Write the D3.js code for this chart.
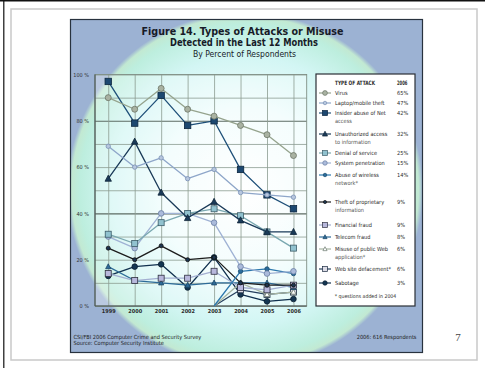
<!DOCTYPE html>
<html lang="en">
<head>
<meta charset="UTF-8" />
<title>Figure 14</title>
<style>
  html, body { margin: 0; padding: 0; background: #fff; }
  svg { display: block; }
  text { font-family: "Liberation Sans Narrow", "DejaVu Sans", sans-serif; font-stretch: condensed; }
</style>
</head>
<body>
<div id="chart"></div>
<script src="https://d3js.org/d3.v7.min.js"></script>
<script>
  // --- data ---
  const years = [1999, 2000, 2001, 2002, 2003, 2004, 2005, 2006];
  const yTicks = [0, 20, 40, 60, 80, 100];

  const virus      = [90, 85, 94, 85, 82, 78, 74, 65];
  const laptop     = [69, 60, 64, 55, 59, 49, 48, 47];
  const insider    = [97, 79, 91, 78, 80, 59, 48, 42];
  const unauth     = [55, 71, 49, 38, 45, 37, 32, 32];
  const dos        = [31, 27, 36, 40, 42, 39, 32, 25];
  const syspen     = [30, 25, 40, 40, 36, 17, 14, 15];
  const wireless   = [null, null, null, null, 0, 15, 16, 14];
  const theft      = [25, 20, 26, 20, 21, 10, 9, 9];
  const financial  = [14, 11, 12, 12, 15, 8, 7, 9];
  const telecom    = [17, 11, 10, 9, 10, 10, 10, 8];
  const misuse     = [null, null, null, null, 0, 10, 5, 6];
  const defacement = [null, null, null, null, 0, 7, 5, 6];
  const sabotage   = [13, 17, 18, 8, 21, 5, 2, 3];

  const names = [
    ['Virus'], ['Laptop/mobile theft'], ['Insider abuse of Net', 'access'],
    ['Unauthorized access', 'to information'], ['Denial of service'], ['System penetration'],
    ['Abuse of wireless', 'network*'], ['Theft of proprietary', 'information'],
    ['Financial fraud'], ['Telecom fraud'], ['Misuse of public Web', 'application*'],
    ['Web site defacement*'], ['Sabotage']
  ];
  const pct2006 = ['65%', '47%', '42%', '32%', '25%', '15%', '14%', '9%', '9%', '8%', '6%', '6%', '3%'];
  const legendY = [93, 103, 113, 134, 153, 163, 175, 202, 225, 237, 249, 269, 283];

  const styles = [
    {line: '#95a38d', marker: 'circle',   fill: '#a9b2a2', stroke: '#6c7667', r: 3},
    {line: '#8ea6c9', marker: 'circle',   fill: '#b7c7de', stroke: '#7a91b5', r: 2.2},
    {line: '#1f5079', marker: 'square',   fill: '#1d4870', stroke: '#0d2740', r: 3.2},
    {line: '#1a3a58', marker: 'triangle', fill: '#1a3a58', stroke: '#0f2438', r: 3.2},
    {line: '#7aa8b0', marker: 'square',   fill: '#91c2cf', stroke: '#3c5c68', r: 3},
    {line: '#9fb2d4', marker: 'circle',   fill: '#abbbdb', stroke: '#6a7ea2', r: 2.8},
    {line: '#2c78ad', marker: 'circle',   fill: '#2a6c9b', stroke: '#1a4c70', r: 2.2},
    {line: '#1c1c1c', marker: 'circle',   fill: '#1d3550', stroke: '#111', r: 2},
    {line: '#a4b0d2', marker: 'square',   fill: '#b8b8dc', stroke: '#2e3040', r: 3},
    {line: '#2d6b98', marker: 'triangle', fill: '#2d6b98', stroke: '#1c4666', r: 2.6},
    {line: '#a7b5a2', marker: 'triangle', fill: '#ffffff', stroke: '#6a786e', r: 2.6},
    {line: '#26405e', marker: 'square',   fill: '#dcdce6', stroke: '#1a2a40', r: 3},
    {line: '#10304e', marker: 'circle',   fill: '#143652', stroke: '#0a1e30', r: 2.8}
  ];
  const series = [virus, laptop, insider, unauth, dos, syspen, wireless, theft,
                  financial, telecom, misuse, defacement, sabotage];

  const W = 485, H = 368;
  const svg = d3.select('#chart').append('svg').attr('width', W).attr('height', H);

  // slide frame
  svg.append('rect').attr('x', 11).attr('y', 9).attr('width', 466).attr('height', 351)
     .attr('fill', 'none').attr('stroke', '#c9c9c9').attr('stroke-width', 1.5);
  svg.append('line').attr('x1', 0).attr('x2', W).attr('y1', 0.7).attr('y2', 0.7)
     .attr('stroke', '#111').attr('stroke-width', 1.4);
  svg.append('line').attr('x1', 3.8).attr('x2', 3.8).attr('y1', 0).attr('y2', H)
     .attr('stroke', '#111').attr('stroke-width', 1.2);
  svg.append('text').attr('x', 458).attr('y', 341).attr('text-anchor', 'middle')
     .attr('font-size', 11).attr('fill', '#444')
     .style('font-family', '"Liberation Serif", "DejaVu Serif", serif').style('font-stretch', 'normal')
     .text('7');

  // chart panel with glow
  const defs = svg.append('defs');
  const grad = defs.append('radialGradient').attr('id', 'glow')
     .attr('gradientUnits', 'userSpaceOnUse').attr('cx', 245).attr('cy', 190).attr('r', 178);
  [[0, '#ffffff'], [0.45, '#f0fdfd'], [0.75, '#d3f6f4'], [0.93, '#bdeede'], [0.975, '#c2e9d2'], [1, '#9cb2d3']]
    .forEach(([o, c]) => grad.append('stop').attr('offset', o).attr('stop-color', c));

  svg.append('rect').attr('x', 70).attr('y', 19).attr('width', 353).attr('height', 334)
     .attr('fill', '#97aed1');
  svg.append('rect').attr('x', 70).attr('y', 19).attr('width', 353).attr('height', 334)
     .attr('fill', 'url(#glow)');
  svg.append('rect').attr('x', 70.5).attr('y', 19.5).attr('width', 352).attr('height', 333)
     .attr('fill', 'none').attr('stroke', '#28323e').attr('stroke-width', 1.2);

  // titles
  const t = svg.append('g').attr('fill', '#171b28');
  t.append('text').attr('x', 242.5).attr('y', 34.5).attr('text-anchor', 'middle')
   .attr('font-size', 10.3).attr('font-weight', 'bold').attr('textLength', 202).attr('lengthAdjust', 'spacingAndGlyphs')
   .text('Figure 14. Types of Attacks or Misuse');
  t.append('text').attr('x', 244).attr('y', 46).attr('text-anchor', 'middle')
   .attr('font-size', 10.3).attr('font-weight', 'bold').attr('textLength', 148).attr('lengthAdjust', 'spacingAndGlyphs')
   .text('Detected in the Last 12 Months');
  t.append('text').attr('x', 244.5).attr('y', 57).attr('text-anchor', 'middle')
   .attr('font-size', 8.6).attr('textLength', 103).attr('lengthAdjust', 'spacingAndGlyphs')
   .text('By Percent of Respondents');

  // plot
  const x = d3.scalePoint().domain(years).range([95, 306.7]).padding(0.5);
  const y = d3.scaleLinear().domain([0, 100]).range([306, 74.5]);

  svg.append('rect').attr('x', 95).attr('y', 74.5).attr('width', 211.7).attr('height', 231.5)
     .attr('fill', '#ffffff').attr('fill-opacity', 0.3);

  const gridY = svg.append('g').attr('transform', 'translate(95,0)')
     .call(d3.axisLeft(y).ticks(10).tickSize(-211.7).tickFormat(''));
  gridY.select('.domain').remove();
  gridY.selectAll('line').attr('stroke', d => (d === 80 || d === 40) ? '#5d6b63' : '#8c9c90')
       .attr('stroke-width', d => (d === 80 || d === 40) ? 1.1 : 0.8);
  const gridX = svg.append('g').attr('transform', 'translate(0,306)')
     .call(d3.axisBottom(x).tickSize(-231.5).tickFormat(''));
  gridX.select('.domain').remove();
  gridX.selectAll('line').attr('stroke', '#8c9c90').attr('stroke-width', 0.8);

  svg.append('rect').attr('x', 95).attr('y', 74.5).attr('width', 211.7).attr('height', 231.5)
     .attr('fill', 'none').attr('stroke', '#7f8f85').attr('stroke-width', 0.9);
  svg.append('line').attr('x1', 95).attr('x2', 95).attr('y1', 74.5).attr('y2', 306)
     .attr('stroke', '#4a5552').attr('stroke-width', 1.1);
  svg.append('line').attr('x1', 95).attr('x2', 306.7).attr('y1', 306).attr('y2', 306)
     .attr('stroke', '#4a5552').attr('stroke-width', 1.1);

  const ax = svg.append('g').attr('transform', 'translate(89,0)')
     .call(d3.axisLeft(y).tickValues(yTicks).tickSize(0).tickPadding(0).tickFormat(d => d + ' %'));
  ax.select('.domain').remove();
  ax.selectAll('text').attr('font-size', 5.5).attr('fill', '#333')
    .style('font-family', '"Liberation Sans Narrow", "DejaVu Sans", sans-serif');

  const bx = svg.append('g').attr('transform', 'translate(0,309)')
     .call(d3.axisBottom(x).tickSize(0).tickPadding(0));
  bx.select('.domain').remove();
  bx.selectAll('text').attr('font-size', 5.5).attr('font-weight', 'bold').attr('fill', '#2a2a2a')
    .style('font-family', '"Liberation Sans Narrow", "DejaVu Sans", sans-serif');

  function marker(g, s, cx, cy, k) {
    const r = s.r * (k || 1);
    if (s.marker === 'circle') {
      g.append('circle').attr('cx', cx).attr('cy', cy).attr('r', r);
    } else if (s.marker === 'square') {
      g.append('rect').attr('x', cx - r).attr('y', cy - r).attr('width', 2 * r).attr('height', 2 * r);
    } else {
      g.append('path').attr('d', `M${cx},${cy - r * 1.1}L${cx + r},${cy + r * 0.8}L${cx - r},${cy + r * 0.8}Z`);
    }
    return g;
  }

  const line = d3.line().defined(d => d.v !== null).x(d => x(d.yr)).y(d => y(d.v));
  const order = d3.range(series.length).reverse();
  order.forEach(i => {
    const pts = years.map((yr, j) => ({yr, v: series[i][j]}));
    const s = styles[i];
    svg.append('path').datum(pts).attr('d', line).attr('fill', 'none')
       .attr('stroke', s.line).attr('stroke-width', 1.3).attr('stroke-linejoin', 'round');
    const mg = svg.append('g').attr('fill', s.fill).attr('stroke', s.stroke).attr('stroke-width', 0.8);
    pts.filter(p => p.v !== null && p.v > 0).forEach(p => marker(mg, s, x(p.yr), y(p.v)));
  });

  // legend
  svg.append('rect').attr('x', 316).attr('y', 74).attr('width', 99).attr('height', 232)
     .attr('fill', '#fff').attr('stroke', '#2b2f36').attr('stroke-width', 1.2);
  const lg = svg.append('g').attr('fill', '#2a2a2a');
  lg.append('text').attr('x', 335).attr('y', 84.5).attr('font-size', 6).attr('font-weight', 'bold')
    .attr('textLength', 40).attr('lengthAdjust', 'spacingAndGlyphs').text('TYPE OF ATTACK');
  lg.append('text').attr('x', 397).attr('y', 84.5).attr('font-size', 6).attr('font-weight', 'bold')
    .attr('textLength', 10.5).attr('lengthAdjust', 'spacingAndGlyphs').text('2006');
  names.forEach((nm, i) => {
    const s = styles[i], ly = legendY[i];
    lg.append('line').attr('x1', 319).attr('x2', 331).attr('y1', ly).attr('y2', ly)
      .attr('stroke', s.line).attr('stroke-width', 1.2);
    const mg = lg.append('g').attr('fill', s.fill).attr('stroke', s.stroke).attr('stroke-width', 0.7);
    marker(mg, s, 325, ly, 0.8);
    nm.forEach((txt, k) => {
      lg.append('text').attr('x', 335).attr('y', ly + 2 + k * 7.8).attr('font-size', 5.6)
        .attr('fill', k ? '#555' : '#2a2a2a').text(txt);
    });
    lg.append('text').attr('x', 397).attr('y', ly + 2).attr('font-size', 5.6).text(pct2006[i]);
  });
  lg.append('text').attr('x', 365.5).attr('y', 298).attr('text-anchor', 'middle').attr('font-size', 5.2)
    .text('* questions added in 2004');

  // footer
  const ft = svg.append('g').attr('fill', '#1e1e1e').attr('font-size', 5.6);
  ft.append('text').attr('x', 73.5).attr('y', 338.5).text('CSI/FBI 2006 Computer Crime and Security Survey');
  ft.append('text').attr('x', 73.5).attr('y', 345).text('Source: Computer Security Institute');
  ft.append('text').attr('x', 416.5).attr('y', 338.5).attr('text-anchor', 'end').text('2006: 616 Respondents');
</script>
</body>
</html>
